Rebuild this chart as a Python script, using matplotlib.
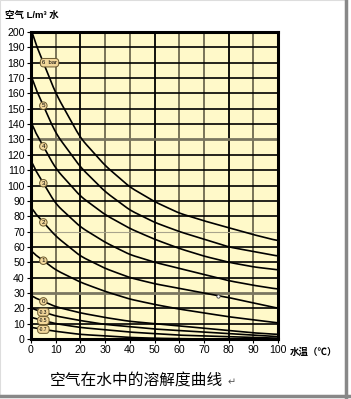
import matplotlib.pyplot as plt
import matplotlib.patches as mpatches
import numpy as np

plt.rcParams['font.family'] = ['Liberation Sans', 'Noto Sans CJK SC', 'DejaVu Sans']

# 水温 (℃)
temp = [0, 10, 20, 30, 40, 50, 60, 70, 80, 90, 100]
# 各压力下的溶解度 L/m3
c6 = [200, 160, 131, 113, 99, 89.5, 82, 77, 72.5, 68, 64]
c5 = [170, 134, 112, 96, 84, 76, 70, 65, 60, 57, 54]
c4 = [140, 111, 93, 81, 72, 65, 59, 54, 50, 47, 45]
c3 = [115, 88, 73, 63, 55, 50, 46, 42, 38, 35, 32.5]
c2 = [85, 67, 54, 46, 40, 36, 33, 30, 27, 23.5, 20]
c1 = [57, 45, 37, 31, 26, 22.5, 19.5, 17, 14.5, 12.5, 10.4]
c0 = [28, 21, 17, 14, 11.5, 10, 8.5, 7, 5.5, 4, 3]
cm3 = [20, 15, 12, 9.5, 8, 6.5, 5.5, 4.5, 3.5, 2.5, 1.5]
cm5 = [14, 10, 7.5, 6, 4.5, 3.5, 2.5, 2, 1.5, 1, 0.5]
cm7 = [7.5, 5, 3, 2, 1, 0.5, 0.2, 0, 0, 0, 0]
curves = [c6, c5, c4, c3, c2, c1, c0, cm3, cm5, cm7]
labels = ['6  bar', '5', '4', '3', '2', '1', '0', '-0.3', '-0.5', '-0.7']

fig = plt.figure(figsize=(3.51, 3.99), dpi=100)
ax = fig.add_axes([31/351, 1-339/399, 247/351, 307/399])
ax.set_facecolor('#fff9c9')

# 网格线: 部分灰色
for x in range(10, 100, 10):
    col = '#000000' if x in (20, 50, 80) else '#6e6a50'
    ax.axvline(x, color=col, lw=1.3, zorder=1)
for y in range(10, 200, 10):
    if y in (30, 130):
        col, lw = '#7a7660', 2.0
    elif y in (70,):
        col, lw = '#a8a48c', 0.8
    else:
        col, lw = '#000000', 1.2
    ax.axhline(y, color=col, lw=lw, zorder=1)

for ys, lab in zip(curves, labels):
    xs = np.linspace(0, 100, 201)
    yy = np.interp(xs, temp, ys)
    # 平滑
    k = np.ones(9) / 9
    pad = np.concatenate([np.full(4, yy[0] + (yy[0] - yy[4])), yy, np.full(4, yy[-1])])
    sm = np.convolve(pad, k, mode='valid')
    sm[0] = yy[0]
    ax.plot(xs, sm, color='black', lw=1.2, zorder=2, solid_capstyle='butt')
    yl = np.interp(5, xs, sm)
    if lab.startswith('6'):
        ax.text(7.5, yl, lab, fontsize=4.2, ha='center', va='center', zorder=4,
                bbox=dict(boxstyle='round,pad=0.3,rounding_size=0.6', fc='#f2d79a', ec='#6b5a30', lw=0.7))
    elif len(lab) == 1:
        ax.text(5, yl, lab, fontsize=4.5, ha='center', va='center', zorder=4,
                bbox=dict(boxstyle='circle,pad=0.2', fc='#f2d79a', ec='#6b5a30', lw=0.7))
    else:
        ax.text(5, yl, lab, fontsize=3.5, ha='center', va='center', zorder=4,
                bbox=dict(boxstyle='round,pad=0.3,rounding_size=0.6', fc='#f2d79a', ec='#6b5a30', lw=0.7))

ax.plot([75.8], [28], marker='o', ms=2.4, mfc='white', mec='#444444', mew=0.6, zorder=3)

ax.set_xlim(0, 100)
ax.set_ylim(0, 200)
ax.set_xticks(range(0, 101, 10))
ax.set_yticks(range(0, 201, 10))
ax.tick_params(labelsize=7.6, length=3, width=0.8, pad=1.5, colors='black')
for s in ax.spines.values():
    s.set_linewidth(2.2)
    s.set_color('black')
    s.set_zorder(5)

fig.text(5/351, 1-15/399, '空气 L/m³ 水', fontsize=6.8, fontweight='bold', ha='left', va='center')
fig.text(290/351, 1-352/399, '水温（℃）', fontsize=6.8, fontweight='bold', ha='left', va='center')
fig.text(50/351, 1-381/399, '空气在水中的溶解度曲线', fontsize=11.3, ha='left', va='center',
         family=['Noto Sans CJK SC', 'DejaVu Sans'])
fig.text(228/351, 1-382/399, '↵', fontsize=7, color='#555555', ha='left', va='center',
         family=['DejaVu Sans'])

# 外框阴影
fig.patches.append(mpatches.Rectangle((0, 4/399), 345/351, 395/399, transform=fig.transFigure,
                                      fill=False, ec='#dddddd', lw=0.8))
fig.add_artist(plt.Line2D([346/351, 346/351], [0, 1], transform=fig.transFigure, color='#888888', lw=2.5))
fig.add_artist(plt.Line2D([0, 1], [3/399, 3/399], transform=fig.transFigure, color='#888888', lw=2.5))

fig.savefig('out.png', dpi=100)
